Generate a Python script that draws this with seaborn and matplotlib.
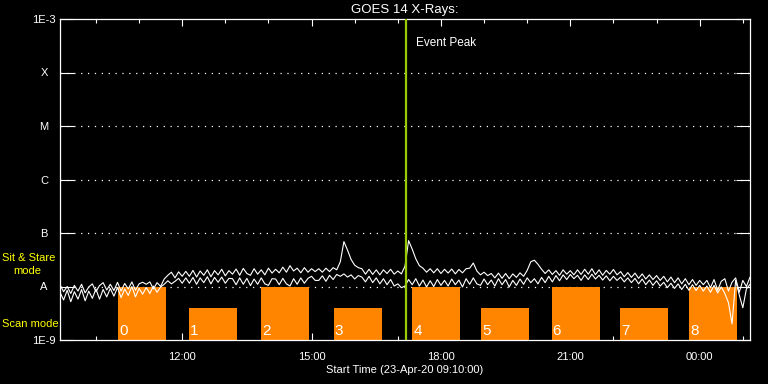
import matplotlib
matplotlib.use("Agg")
import matplotlib.pyplot as plt
import matplotlib.dates as mdates
import matplotlib.ticker as mticker
import numpy as np
import pandas as pd
import seaborn as sns

# ---------------- data ----------------
t_start = "2020-04-23 09:10"
t_end = "2020-04-24 01:10"
sample_step = "5min"

# flux in units of 1e-8 W/m^2 (GOES "A" level), one value every 5 minutes
upper_A = [
    1.08, 0.80, 1.00, 0.74, 1.05, 0.82, 1.10, 0.76, 0.98, 1.12, 0.80, 1.04,
    1.18, 0.86, 1.10, 0.84, 1.20, 0.82, 1.14, 0.90, 1.22, 0.85, 1.12, 1.20,
    1.10, 1.22, 0.90, 1.18, 1.00, 1.38, 1.62, 1.85, 1.45, 1.88, 1.55, 1.92,
    1.55, 2.00, 1.50, 1.95, 1.62, 2.05, 1.52, 1.98, 1.65, 2.10, 1.58, 1.98,
    1.70, 2.12, 1.62, 2.18, 1.75, 1.62, 2.15, 1.70, 2.05, 1.65, 2.20, 1.78,
    2.10, 1.80, 2.30, 1.85, 2.45, 1.95, 2.20, 1.80, 2.25, 1.85, 2.15, 1.90,
    2.15, 1.85, 2.20, 1.90, 2.25, 2.05, 2.90, 6.90, 4.80, 3.20, 2.50, 2.25,
    2.15, 1.70, 2.10, 1.68, 2.05, 1.65, 2.05, 1.75, 2.10, 1.70, 1.95, 1.72,
    2.40, 7.20, 5.00, 3.30, 2.45, 2.20, 1.85, 2.15, 1.80, 2.15, 1.75, 2.10,
    1.78, 2.12, 1.72, 2.08, 1.80, 2.15, 2.20, 2.75, 1.95, 1.65, 1.85, 1.60,
    1.75, 1.45, 1.78, 1.42, 1.75, 1.40, 1.72, 1.48, 1.80, 1.55, 2.00, 2.90,
    3.10, 2.60, 2.10, 1.75, 2.05, 1.68, 1.98, 1.62, 2.05, 1.70, 1.98, 1.65,
    2.05, 1.68, 2.10, 1.70, 2.15, 1.66, 2.05, 1.62, 2.00, 1.70, 2.08, 1.65,
    1.90, 1.52, 1.82, 1.48, 1.78, 1.42, 1.72, 1.38, 1.65, 1.35, 1.60, 1.30,
    1.55, 1.22, 1.50, 1.18, 1.45, 1.12, 1.40, 1.08, 1.35, 1.05, 1.30, 1.08,
    1.30, 0.95, 1.35, 0.85, 1.25, 1.40, 0.82, 1.20, 1.45, 0.78, 1.30, 1.00,
    1.50,
]
lower_A = [
    0.78, 0.56, 0.85, 0.52, 0.80, 0.58, 0.88, 0.54, 0.82, 0.60, 0.90, 0.58,
    0.88, 0.64, 0.92, 0.66, 0.96, 0.62, 0.90, 0.68, 1.00, 0.64, 0.92, 0.72,
    0.96, 0.74, 1.02, 0.78, 0.98, 1.10, 1.28, 1.12, 1.25, 1.42, 1.15, 1.45,
    1.15, 1.48, 1.10, 1.45, 1.18, 1.52, 1.12, 1.48, 1.20, 1.50, 1.15, 1.42,
    1.40, 1.08, 1.45, 1.10, 1.42, 1.04, 1.38, 1.10, 1.45, 1.12, 1.05, 1.40,
    1.38, 1.08, 1.42, 1.12, 1.02, 1.40, 1.10, 1.45, 1.15, 1.42, 1.55, 1.30,
    1.30, 1.58, 1.25, 1.62, 1.35, 1.68, 1.55, 1.72, 1.50, 1.65, 1.38, 1.60,
    1.50, 1.22, 1.55, 1.18, 1.45, 1.12, 1.40, 1.08, 1.35, 1.02, 1.12, 0.95,
    1.02, 1.35, 1.08, 1.40, 1.02, 1.32, 0.98, 1.28, 1.00, 1.35, 1.05, 1.30,
    1.02, 1.38, 1.08, 1.32, 0.98, 1.40, 1.10, 1.45, 1.12, 1.05, 1.38, 1.08,
    1.32, 1.02, 1.40, 1.08, 1.35, 0.98, 1.30, 1.05, 1.38, 1.10, 1.45, 1.18,
    1.40, 1.12, 1.48, 1.18, 1.55, 1.22, 1.60, 1.28, 1.65, 1.35, 1.68, 1.40,
    1.62, 1.30, 1.65, 1.35, 1.70, 1.38, 1.62, 1.32, 1.58, 1.28, 1.55, 1.30,
    1.50, 1.22, 1.45, 1.18, 1.42, 1.12, 1.38, 1.08, 1.32, 1.05, 1.28, 1.02,
    1.20, 0.95, 1.15, 0.92, 1.12, 0.88, 1.10, 0.85, 1.08, 0.84, 1.05, 0.82,
    1.02, 0.78, 1.05, 0.76, 0.98, 0.74, 0.50, 0.20, 1.30, 0.70, 0.40, 0.90,
    1.10,
]
A_unit = 1e-8

# observing-mode bars
bar_starts = ["2020-04-23 10:31", "2020-04-23 12:09", "2020-04-23 13:50",
              "2020-04-23 15:31", "2020-04-23 17:20", "2020-04-23 18:56",
              "2020-04-23 20:34", "2020-04-23 22:09", "2020-04-23 23:45"]
bar_minutes = 67
bar_tops = [1e-8, 4e-9, 1e-8, 4e-9, 1e-8, 4e-9, 1e-8, 4e-9, 1e-8]
bar_labels = ["0", "1", "2", "3", "4", "5", "6", "7", "8"]

event_peak = "2020-04-23 17:12"

y_ticks = [1e-9, 1e-8, 1e-7, 1e-6, 1e-5, 1e-4, 1e-3]
y_ticklabels = ["1E-9", "A", "B", "C", "M", "X", "1E-3"]

title = "GOES 14 X-Rays:"
xlabel = "Start Time (23-Apr-20 09:10:00)"

# ---------------- style ----------------
sns.set_style("dark")
plt.rcParams["font.family"] = ["Liberation Sans", "DejaVu Sans"]
FG = "white"
ORANGE = "#ff8400"
YELLOW = "#ffff00"
GREEN = "#99cc00"

W, H = 768, 384
fig = plt.figure(figsize=(W / 100, H / 100), dpi=100, facecolor="black")
ax = fig.add_axes([60 / W, 1 - 340 / H, 690 / W, 321 / H])
ax.set_facecolor("black")

times = pd.date_range(t_start, t_end, freq=sample_step)
df = pd.DataFrame({
    "time": np.concatenate([times, times]),
    "flux": np.concatenate([np.array(upper_A), np.array(lower_A)]) * A_unit,
    "channel": ["upper"] * len(times) + ["lower"] * len(times),
})

ax.set_yscale("log")

# bars
bx = mdates.date2num(pd.to_datetime(bar_starts))
ax.bar(bx, [t - 1e-9 for t in bar_tops], width=bar_minutes / 1440.0,
       bottom=1e-9, align="edge", color=ORANGE, linewidth=0, zorder=1)
for x0, lab in zip(bx, bar_labels):
    ax.text(x0 + 1.5 / 1440.0, 0.005, lab, transform=ax.get_xaxis_transform(),
            color=FG, fontsize=11, ha="left", va="bottom", zorder=5)

# dotted level lines
for yv in y_ticks[1:-1]:
    ax.axhline(yv, color=FG, lw=0.9, ls=(0, (1, 4.5)), zorder=0.5)

sns.lineplot(data=df, x="time", y="flux", hue="channel",
             palette={"upper": FG, "lower": FG}, legend=False,
             linewidth=0.8, ax=ax, zorder=3)

ep = mdates.date2num(pd.Timestamp(event_peak))
ax.axvline(ep, color=GREEN, lw=1.6, zorder=4)
ax.text(ep + 14 / 1440.0, 3.6e-4, "Event Peak", color=FG, fontsize=8.5,
        ha="left", va="center")

ax.set_xlim(pd.Timestamp(t_start), pd.Timestamp(t_end))
ax.set_ylim(1e-9, 1e-3)

ax.set_yticks(y_ticks)
ax.set_yticklabels(y_ticklabels)
ax.yaxis.set_minor_locator(mticker.NullLocator())
for lbl in ax.get_yticklabels():
    lbl.set_horizontalalignment("center")
ax.tick_params(axis="y", which="major", direction="in", length=10, width=0.8,
               colors=FG, left=True, right=True, labelsize=8, pad=11.5)

ax.xaxis.set_major_locator(mdates.HourLocator(byhour=[0, 3, 6, 9, 12, 15, 18, 21]))
ax.xaxis.set_minor_locator(mdates.HourLocator())
ax.xaxis.set_major_formatter(mdates.DateFormatter("%H:%M"))
ax.tick_params(axis="x", which="major", direction="in", length=5, width=0.8,
               colors=FG, top=True, bottom=True, labelsize=8, pad=8.5)
ax.tick_params(axis="x", which="minor", direction="in", length=3, width=0.8,
               colors=FG, top=True, bottom=True)

ax.grid(False)
for s in ax.spines.values():
    s.set_color(FG)
    s.set_linewidth(0.9)
    s.set_visible(True)

ax.set_xlabel(xlabel, color=FG, fontsize=8, labelpad=2)
ax.set_ylabel("")
ax.set_title(title, color=FG, fontsize=9.5, pad=4)

fig.text(2 / W, 1 - 258 / H, "Sit & Stare", color=YELLOW, fontsize=8,
         ha="left", va="center")
fig.text(13 / W, 1 - 271 / H, "mode", color=YELLOW, fontsize=8,
         ha="left", va="center")
fig.text(2 / W, 1 - 324 / H, "Scan mode", color=YELLOW, fontsize=8,
         ha="left", va="center")

fig.savefig("out.png", dpi=100, facecolor="black")
